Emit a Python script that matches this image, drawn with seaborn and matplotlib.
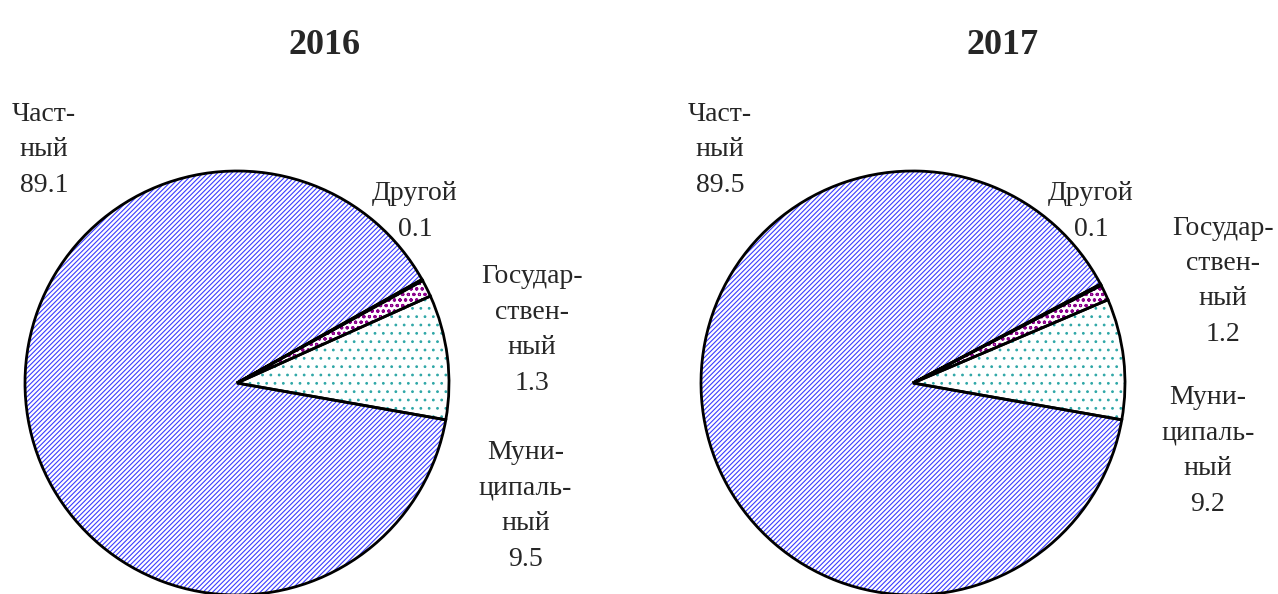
import matplotlib
matplotlib.use("Agg")
import matplotlib.pyplot as plt
import seaborn as sns

# данные
years = ["2016", "2017"]
sectors = ["Муниципальный", "Государственный", "Другой", "Частный"]
values_2016 = [9.5, 1.3, 0.1, 89.1]
values_2017 = [9.2, 1.2, 0.1, 89.5]

labels_2016 = ["Муни-\nципаль-\nный\n9.5", "Государ-\nствен-\nный\n1.3", "Другой\n0.1", "Част-\nный\n89.1"]
labels_2017 = ["Муни-\nципаль-\nный\n9.2", "Государ-\nствен-\nный\n1.2", "Другой\n0.1", "Част-\nный\n89.5"]

# позиции подписей (в координатах круга, радиус = 1)
pos_2016 = [(1.36, -0.58), (1.39, 0.25), (0.84, 0.81), (-0.91, 1.10)]
pos_2017 = [(1.39, -0.32), (1.46, 0.48), (0.84, 0.81), (-0.91, 1.10)]

hatch_colors = ["#2fa7a7", "#8b008b", "#8b008b", "#3c3cff"]
hatches = ["..", "ooo", "ooo", "///////"]

sns.set_style("white")
plt.rcParams["font.family"] = ["Liberation Serif", "DejaVu Serif"]
plt.rcParams["hatch.linewidth"] = 0.8

fig = plt.figure(figsize=(12.78, 5.94), dpi=100)

axes_rect = [[25 / 1278, -1 / 594, 424 / 1278, 424 / 594],
             [701 / 1278, -1 / 594, 424 / 1278, 424 / 594]]
title_x = [325 / 1278, 1003 / 1278]

for year, vals, labs, pos, rect, tx in zip(years, [values_2016, values_2017],
                                           [labels_2016, labels_2017],
                                           [pos_2016, pos_2017], axes_rect, title_x):
    ax = fig.add_axes(rect)
    # штриховка
    wedges, _ = ax.pie(vals, startangle=-10, counterclock=True, radius=1,
                       colors=["white"] * 4)
    for w, h, c in zip(wedges, hatches, hatch_colors):
        w.set_hatch(h)
        w.set_edgecolor(c)
        w.set_linewidth(0)
    # контуры
    ax.pie(vals, startangle=-10, counterclock=True, radius=1,
           wedgeprops=dict(facecolor="none", edgecolor="black", linewidth=2))
    for lab, (x, y) in zip(labs, pos):
        ax.text(x, y, lab, ha="center", va="center", fontsize=20,
                linespacing=1.55, multialignment="center")
    ax.set_xlim(-1, 1)
    ax.set_ylim(-1, 1)
    ax.set_aspect("equal")
    ax.axis("off")
    fig.text(tx, 1 - 45 / 594, year, ha="center", va="center",
             fontsize=26, fontweight="bold")

fig.savefig("out.png", dpi=100)
